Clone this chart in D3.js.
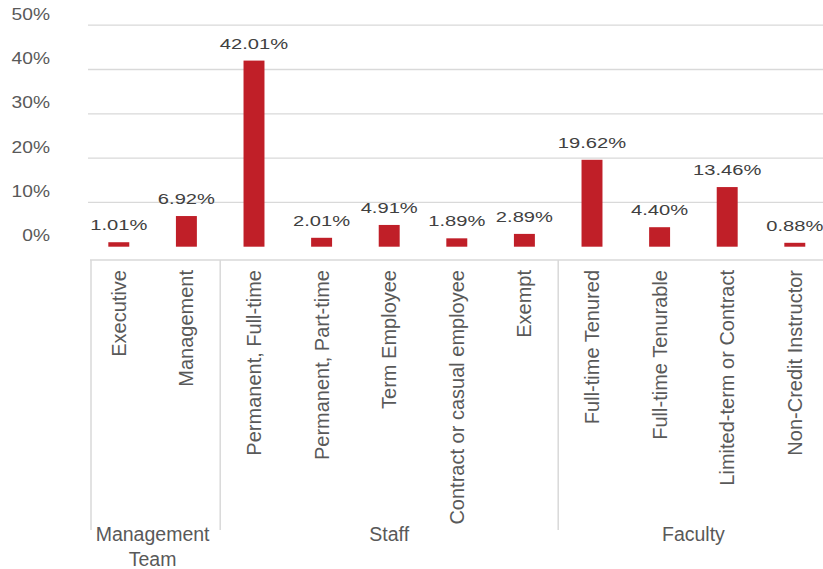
<!DOCTYPE html>
<html>
<head>
<meta charset="utf-8">
<script src="https://cdn.jsdelivr.net/npm/d3@7"></script>
<style>
    body { margin: 0; background: #fff; }
    svg { display: block; font-family: "Liberation Sans", Arial, sans-serif; }
</style>
</head>
<body>
<div id="employee_chart"></div>
<script>
// values
const categories = ["Executive", "Management", "Permanent, Full-time", "Permanent, Part-time",
    "Term Employee", "Contract or casual employee", "Exempt", "Full-time Tenured",
    "Full-time Tenurable", "Limited-term or Contract", "Non-Credit Instructor"];
const shares = [1.01, 6.92, 42.01, 2.01, 4.91, 1.89, 2.89, 19.62, 4.40, 13.46, 0.88];
const groupNames = ["Management Team", "Staff", "Faculty"];
const groupSizes = [2, 5, 4];
const yTicks = [0, 10, 20, 30, 40, 50];

class EmployeeChart {

    constructor(element_id) {
        this.width = 823;
        this.height = 569;
        this.bar_color = "#c01f28";
        this.grid_color = "#d9d9d9";
        this.text_color = "#595959";

        // category bands, one per bar
        this.x = d3.scaleBand()
            .domain(d3.range(categories.length))
            .range([85, 85 + 67.6 * categories.length])
            .paddingInner(0.69)
            .paddingOuter(0.345);

        this.y = d3.scaleLinear()
            .domain([0, 50])
            .range([246.7, 25.2]);

        this.axis_y = 260;   // category axis sits a little under the bars
        this.sep_bottom = 530;

        this.svg = d3.select("#" + element_id)
            .append("svg")
            .attr("width", this.width)
            .attr("height", this.height);

        this.drawGrid();
        this.drawBars();
        this.drawCategoryAxis();
    }

    drawGrid() {
        const y = this.y;

        this.svg.append("g")
            .selectAll("line")
            .data(yTicks.filter(d => d > 0))
            .join("line")
            .attr("x1", 88)
            .attr("x2", this.width)
            .attr("y1", d => y(d))
            .attr("y2", d => y(d))
            .attr("stroke", this.grid_color)
            .attr("stroke-width", 1.3);

        this.svg.append("g")
            .attr("font-size", 16)
            .attr("fill", this.text_color)
            .selectAll("text")
            .data(yTicks)
            .join("text")
            .attr("text-anchor", "end")
            .attr("dy", "0.35em")
            .attr("transform", d => `translate(50,${y(d) - 11}) scale(1.2,1)`)
            .text(d => d + "%");
    }

    drawBars() {
        const x = this.x, y = this.y;

        this.svg.append("g")
            .selectAll("rect")
            .data(shares)
            .join("rect")
            .attr("fill", this.bar_color)
            .attr("x", (d, i) => x(i))
            .attr("y", d => y(d))
            .attr("width", x.bandwidth())
            .attr("height", d => y(0) - y(d));

        this.svg.append("g")
            .attr("font-size", 15.5)
            .attr("fill", "#404040")
            .attr("text-anchor", "middle")
            .selectAll("text")
            .data(shares)
            .join("text")
            .attr("transform", (d, i) =>
                `translate(${x(i) + x.bandwidth() / 2},${y(d) - 12}) scale(1.3,1)`)
            .text(d => d3.format(".2f")(d) + "%");
    }

    drawCategoryAxis() {
        const x = this.x;
        const step = x.step();
        const left = x.range()[0];

        this.svg.append("line")
            .attr("x1", left + 5)
            .attr("x2", this.width)
            .attr("y1", this.axis_y)
            .attr("y2", this.axis_y)
            .attr("stroke", this.grid_color)
            .attr("stroke-width", 1.3);

        // rotated category names
        this.svg.append("g")
            .attr("font-size", 20)
            .attr("fill", this.text_color)
            .attr("text-anchor", "end")
            .selectAll("text")
            .data(categories)
            .join("text")
            .attr("transform", (d, i) =>
                `translate(${x(i) + x.bandwidth() / 2},270) rotate(-90)`)
            .attr("dy", "0.35em")
            .text(d => d);

        // group separators and group names
        const starts = d3.cumsum([0].concat(groupSizes.slice(0, -1)));
        const groups = groupNames.map((name, i) => ({
            name: name,
            start: starts[i],
            size: groupSizes[i]
        }));

        this.svg.append("g")
            .selectAll("line")
            .data(groups)
            .join("line")
            .attr("x1", d => left + d.start * step + (d.start == 0 ? 6 : 0))
            .attr("x2", d => left + d.start * step + (d.start == 0 ? 6 : 0))
            .attr("y1", this.axis_y)
            .attr("y2", this.sep_bottom)
            .attr("stroke", this.grid_color)
            .attr("stroke-width", 1.5);

        const labels = this.svg.append("g")
            .attr("font-size", 19.5)
            .attr("fill", this.text_color)
            .attr("text-anchor", "middle")
            .selectAll("text")
            .data(groups)
            .join("text")
            .attr("x", d => left + (d.start + d.size / 2) * step)
            .attr("y", 541);

        labels.selectAll("tspan")
            .data(d => {
                const words = d.name.split(" ");
                return words.length > 1 ? [words.slice(0, -1).join(" "), words[words.length - 1]] : words;
            })
            .join("tspan")
            .attr("x", function() { return d3.select(this.parentNode).attr("x"); })
            .attr("dy", (d, i) => i == 0 ? 0 : 24.5)
            .text(d => d);
    }
}

function whenDocumentLoaded(action) {
    if (document.readyState === "loading") {
        document.addEventListener("DOMContentLoaded", action);
    } else {
        action();
    }
}

whenDocumentLoaded(() => {
    new EmployeeChart("employee_chart");
});
</script>
</body>
</html>
